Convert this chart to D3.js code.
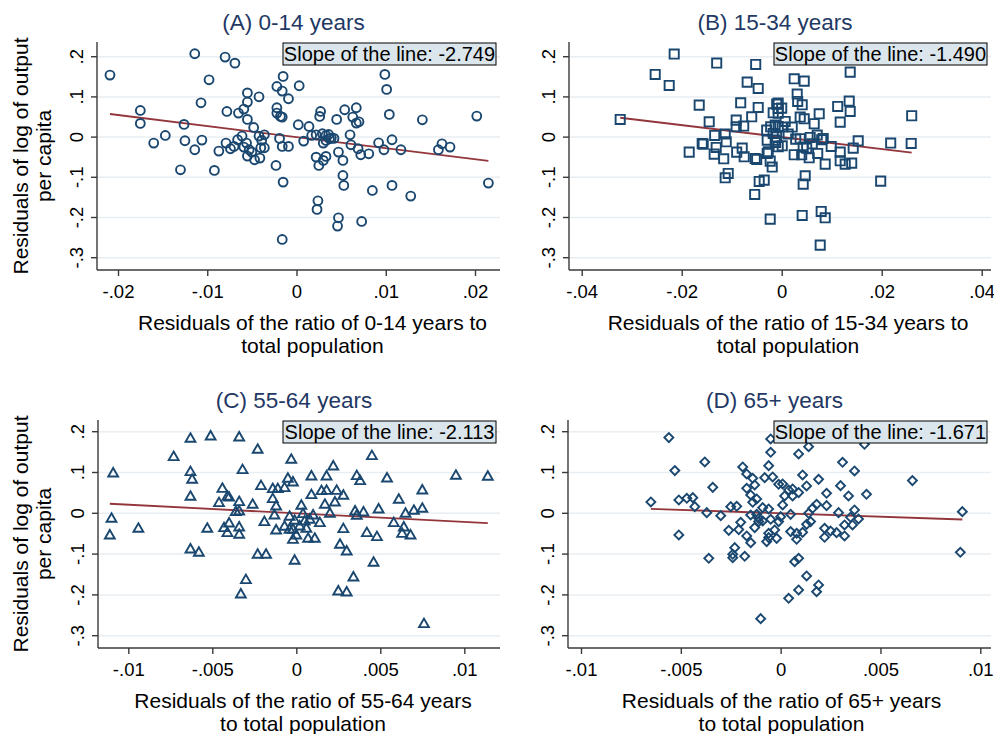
<!DOCTYPE html>
<meta charset="utf-8">
<style>
body { margin: 0; background: #fff; }
svg { display: block; font-family: "Liberation Sans", Arial, sans-serif; }
.grid line { stroke: #e8eef2; stroke-width: 1.5; }
.axis line, .axis path { stroke: #3a3a3a; stroke-width: 1.4; fill: none; }
.mark { fill: none; stroke: #1a476f; stroke-width: 1.9; }
.fit { stroke: #93363c; stroke-width: 1.8; fill: none; }
</style>
<body>
<script src="https://d3js.org/d3.v7.min.js"></script>
<script>

width = 994;
height = 734;

// panel titles and axis titles
titles = ["(A) 0-14 years", "(B) 15-34 years", "(C) 55-64 years", "(D) 65+ years"];
xTitles = [
  ["Residuals of the ratio of 0-14 years to", "total population"],
  ["Residuals of the ratio of 15-34 years to", "total population"],
  ["Residuals of the ratio of 55-64 years", "to total population"],
  ["Residuals of the ratio of 65+ years", "to total population"]
];
yTitle = ["Residuals of log of output", "per capita"];
slopes = [-2.749, -1.490, -2.113, -1.671];

// ticks
yTicks = [-0.3, -0.2, -0.1, 0, 0.1, 0.2];
yTickLabels = ["-.3", "-.2", "-.1", "0", ".1", ".2"];
xTicksA = [-0.02, -0.01, 0, 0.01, 0.02];
xTickLabelsA = ["-.02", "-.01", "0", ".01", ".02"];
xTicksB = [-0.04, -0.02, 0, 0.02, 0.04];
xTickLabelsB = ["-.04", "-.02", "0", ".02", ".04"];
xTicksCD = [-0.01, -0.005, 0, 0.005, 0.01];
xTickLabelsCD = ["-.01", "-.005", "0", ".005", ".01"];

// residual pairs [x, y]
ptsA = [
  [-0.0209,0.1542],[-0.0114,0.2073],[-0.0080,0.1990],[-0.0069,0.1840],[-0.0098,0.1426],[-0.0015,0.1510],[-0.0022,0.1260],[-0.0016,0.1144],[-0.0055,0.1100],[-0.0042,0.1003],
  [-0.0009,0.0954],[-0.0107,0.0854],[-0.0055,0.0871],[-0.0175,0.0663],[-0.0078,0.0638],[-0.0065,0.0597],[-0.0059,0.0697],[-0.0022,0.0730],[-0.0022,0.0597],[-0.0018,0.0514],
  [-0.0016,0.0498],[-0.0055,0.0440],[-0.0175,0.0340],[-0.0126,0.0315],[-0.0048,0.0240],[-0.0147,0.0041],[-0.0160,-0.0149],[-0.0125,-0.0091],[-0.0106,-0.0075],[-0.0114,-0.0315],
  [-0.0087,-0.0348],[-0.0079,-0.0149],[-0.0074,-0.0290],[-0.0070,-0.0232],[-0.0066,-0.0066],[-0.0061,0.0025],[-0.0056,-0.0149],[-0.0059,-0.0249],[-0.0053,-0.0315],[-0.0055,-0.0473],
  [-0.0050,-0.0373],[-0.0047,-0.0564],[-0.0041,-0.0522],[-0.0042,0.0025],[-0.0039,-0.0083],[-0.0036,0.0058],[-0.0036,-0.0265],[-0.0040,-0.0265],[-0.0019,-0.0033],[-0.0016,-0.0232],
  [-0.0009,-0.0232],[-0.0130,-0.0813],[-0.0092,-0.0829],[-0.0023,-0.0705],[-0.0015,-0.1120],[-0.0016,-0.2546],
  [0.0099,0.1559],[0.0101,0.1186],[0.0003,0.1277],[0.0027,0.0638],[0.0026,0.0514],[0.0054,0.0680],[0.0067,0.0730],[0.0063,0.0498],[0.0067,0.0348],[0.0070,0.0381],
  [0.0045,0.0440],[0.0104,0.0564],[0.0141,0.0431],[0.0202,0.0522],[0.0002,0.0307],[0.0014,0.0265],[0.0017,0.0041],[0.0008,-0.0100],[0.0022,0.0058],[0.0029,0.0083],
  [0.0033,0.0041],[0.0036,0.0066],[0.0037,-0.0041],[0.0039,-0.0025],[0.0042,-0.0033],[0.0030,-0.0149],[0.0033,-0.0083],[0.0060,0.0058],[0.0061,-0.0191],[0.0047,-0.0373],
  [0.0069,-0.0290],[0.0072,-0.0439],[0.0081,-0.0415],[0.0092,-0.0141],[0.0098,-0.0315],[0.0107,-0.0066],[0.0117,-0.0315],[0.0163,-0.0166],[0.0159,-0.0315],[0.0172,-0.0249],
  [0.0022,-0.0498],[0.0033,-0.0481],[0.0030,-0.0580],[0.0025,-0.0705],[0.0052,-0.0580],[0.0052,-0.0954],[0.0053,-0.1202],[0.0085,-0.1327],[0.0107,-0.1202],[0.0128,-0.1468],
  [0.0215,-0.1144],[0.0024,-0.1584],[0.0023,-0.1799],[0.0047,-0.2007],[0.0046,-0.2214],[0.0073,-0.2098]
];

ptsB = [
  [-0.0215,0.2065],[-0.0130,0.1841],[-0.0052,0.1808],[-0.0253,0.1559],[-0.0225,0.1285],[-0.0069,0.1368],[-0.0047,0.1211],[-0.0165,0.0796],[-0.0082,0.0854],[-0.0047,0.0738],
  [-0.0010,0.0821],[-0.0323,0.0439],[-0.0145,0.0381],[-0.0091,0.0423],[-0.0060,0.0506],[-0.0091,0.0257],[-0.0076,0.0274],[-0.0017,0.0605],[-0.0007,0.0713],[-0.0030,0.0174],
  [-0.0022,0.0257],[-0.0013,0.0299],[-0.0134,0.0041],[-0.0113,0.0075],[-0.0111,-0.0116],[-0.0159,-0.0158],[-0.0157,-0.0174],[-0.0185,-0.0373],[-0.0131,-0.0257],[-0.0135,-0.0423],
  [-0.0116,-0.0539],[-0.0090,-0.0373],[-0.0079,-0.0274],[-0.0075,-0.0489],[-0.0053,-0.0531],[-0.0050,-0.0556],[-0.0029,-0.0075],[-0.0027,-0.0365],[-0.0029,-0.0406],[-0.0023,-0.0597],
  [-0.0019,-0.0746],[-0.0013,-0.0075],[-0.0007,-0.0240],[-0.0107,-0.0904],[-0.0113,-0.1012],[-0.0045,-0.1103],[-0.0035,-0.1070],[-0.0054,-0.1426],[-0.0023,-0.2040],[-0.0017,0.0091],
  [-0.0010,0.0008],
  [0.0137,0.1617],[0.0025,0.1451],[0.0045,0.1393],[0.0031,0.1070],[0.0032,0.0887],[0.0041,0.0804],[-0.0007,0.0846],[0.0000,0.0721],[0.0112,0.0763],[0.0135,0.0896],
  [0.0137,0.0638],[0.0075,0.0580],[0.0117,0.0373],[0.0037,0.0498],[0.0045,0.0456],[0.0065,0.0332],[0.0260,0.0531],[-0.0007,0.0597],[0.0001,0.0249],[0.0021,0.0249],
  [-0.0007,0.0265],[0.0028,-0.0050],[0.0037,-0.0041],[0.0057,-0.0008],[0.0071,0.0050],[0.0083,-0.0033],[0.0080,-0.0066],[0.0153,-0.0091],[0.0218,-0.0149],[0.0259,-0.0158],
  [0.0001,-0.0216],[-0.0012,-0.0133],[0.0043,-0.0249],[0.0050,-0.0274],[0.0061,-0.0166],[0.0099,-0.0232],[0.0025,-0.0439],[0.0040,-0.0439],[0.0055,-0.0514],[0.0072,-0.0406],
  [0.0117,-0.0373],[0.0143,-0.0274],[0.0087,-0.0672],[0.0117,-0.0589],[0.0127,-0.0672],[0.0140,-0.0647],[0.0047,-0.0962],[0.0043,-0.1169],[0.0198,-0.1095],[0.0041,-0.1949],
  [0.0079,-0.1849],[0.0087,-0.2007],[0.0077,-0.2687],[0.0013,0.0075],[0.0007,0.0390]
];

ptsC = [
  [-0.0063,0.1822],[-0.0051,0.1879],[-0.0034,0.1855],[-0.0073,0.1373],[-0.0023,0.1552],[-0.0109,0.0972],[-0.0063,0.1005],[-0.0062,0.0817],[-0.0032,0.1054],[-0.0003,0.1307],
  [-0.0005,0.0842],[-0.0002,0.0752],[-0.0044,0.0596],[-0.0021,0.0662],[-0.0014,0.0588],[-0.0011,0.0588],[-0.0007,0.0613],[-0.0063,0.0400],[-0.0041,0.0400],[-0.0040,0.0380],
  [-0.0046,0.0245],[-0.0034,0.0270],[-0.0026,0.0204],[-0.0014,0.0343],[-0.0012,0.0163],[-0.0036,0.0025],[-0.0034,0.0041],[-0.0110,-0.0139],[-0.0111,-0.0547],[-0.0094,-0.0384],
  [-0.0053,-0.0384],[-0.0043,-0.0368],[-0.0040,-0.0253],[-0.0041,-0.0490],[-0.0034,-0.0351],[-0.0034,-0.0531],[-0.0019,-0.0221],[-0.0013,-0.0057],[-0.0012,-0.0425],[-0.0007,-0.0335],
  [-0.0004,-0.0408],[-0.0004,-0.0090],[-0.0002,-0.0654],[-0.0063,-0.0891],[-0.0058,-0.0972],[-0.0023,-0.1021],[-0.0018,-0.1021],[-0.0001,-0.1168],[-0.0030,-0.1642],[-0.0033,-0.1993],
  [0.0045,0.1397],[0.0022,0.1144],[0.0009,0.0899],[0.0018,0.0899],[0.0036,0.0907],[0.0038,0.0784],[0.0054,0.0850],[0.0095,0.0915],[0.0114,0.0891],[0.0009,0.0441],
  [0.0015,0.0539],[0.0018,0.0547],[0.0024,0.0547],[0.0028,0.0425],[0.0023,0.0261],[0.0017,0.0204],[0.0003,0.0180],[0.0061,0.0327],[0.0075,0.0556],[0.0049,0.0090],
  [0.0035,0.0041],[0.0040,0.0016],[0.0036,-0.0065],[0.0020,-0.0016],[0.0065,-0.0016],[0.0070,0.0057],[0.0075,0.0106],[0.0004,-0.0025],[0.0010,-0.0057],[0.0008,-0.0163],
  [0.0014,-0.0245],[0.0005,-0.0204],[0.0002,-0.0327],[-0.0001,-0.0188],[-0.0002,-0.0408],[0.0006,-0.0384],[0.0000,-0.0547],[0.0007,-0.0629],[0.0011,-0.0629],[0.0028,-0.0392],
  [0.0042,-0.0490],[0.0048,-0.0588],[0.0058,-0.0245],[0.0064,-0.0351],[0.0063,-0.0507],[0.0068,-0.0547],[0.0026,-0.0776],[0.0030,-0.0940],[0.0046,-0.1217],[0.0034,-0.1577],
  [0.0025,-0.1920],[0.0030,-0.1944],[0.0076,-0.2721]
];

ptsD = [
  [-0.0056,0.1855],[-0.0053,0.1046],[-0.0038,0.1258],[-0.0034,0.0637],[-0.0065,0.0278],[-0.0051,0.0327],[-0.0047,0.0368],[-0.0044,0.0384],[-0.0043,0.0163],[-0.0037,0.0016],
  [-0.0030,-0.0057],[-0.0051,-0.0531],[-0.0036,-0.1103],[-0.0019,0.1136],[-0.0017,0.0964],[-0.0014,0.0858],[-0.0013,0.0694],[-0.0017,0.0613],[-0.0015,0.0449],[-0.0012,0.0351],
  [-0.0014,0.0270],[-0.0005,0.1495],[-0.0005,0.1822],[-0.0006,0.1168],[-0.0008,0.0874],[-0.0004,0.0891],[-0.0025,0.0163],[-0.0022,0.0172],[-0.0009,0.0139],[-0.0006,0.0106],
  [-0.0015,-0.0041],[-0.0012,-0.0025],[-0.0011,-0.0123],[-0.0009,-0.0188],[-0.0011,-0.0204],[-0.0005,-0.0147],[-0.0020,-0.0221],[-0.0026,-0.0417],[-0.0021,-0.0400],[-0.0013,-0.0351],
  [-0.0017,-0.0556],[-0.0015,-0.0719],[-0.0007,-0.0694],[-0.0006,-0.0596],[-0.0006,-0.0490],[-0.0003,-0.0408],[-0.0002,-0.0613],[-0.0023,-0.0842],[-0.0024,-0.1005],[-0.0024,-0.1087],
  [-0.0018,-0.1054],[-0.0010,-0.2582],[-0.0001,0.0711],
  [0.0014,0.1634],[0.0009,0.1454],[0.0042,0.1691],[0.0031,0.1250],[0.0037,0.1038],[0.0011,0.0940],[0.0019,0.0833],[0.0013,0.0670],[0.0001,0.0719],[0.0004,0.0572],
  [0.0006,0.0596],[0.0009,0.0507],[0.0006,0.0425],[0.0002,0.0425],[0.0030,0.0678],[0.0023,0.0490],[0.0034,0.0425],[0.0043,0.0466],[0.0066,0.0801],[0.0001,0.0204],
  [0.0023,0.0188],[0.0018,0.0221],[0.0016,0.0123],[0.0014,0.0000],[0.0005,-0.0025],[0.0000,-0.0082],[-0.0001,-0.0204],[0.0029,0.0016],[0.0037,0.0082],[0.0035,-0.0098],
  [0.0039,-0.0139],[0.0032,-0.0286],[0.0036,-0.0286],[0.0015,-0.0204],[0.0013,-0.0270],[0.0091,0.0041],[0.0005,-0.0449],[0.0008,-0.0490],[0.0011,-0.0466],[0.0008,-0.0637],
  [0.0022,-0.0368],[0.0025,-0.0433],[0.0022,-0.0588],[0.0028,-0.0474],[0.0032,-0.0556],[0.0009,-0.1103],[0.0007,-0.1185],[0.0090,-0.0956],[0.0013,-0.1536],[0.0019,-0.1757],
  [0.0018,-0.1920],[0.0009,-0.1879],[0.0004,-0.2083]
];

// layout of the four plot regions (pixels)
panels = [
  {pts: ptsA, xt: xTicksA, xl: xTickLabelsA, left: 97, right: 500, top: 42, bottom: 270,
   xr: [118, 475], yr: [257.7, 56.7], shape: "circle", yTitle: true, titleShift: 14},
  {pts: ptsB, xt: xTicksB, xl: xTickLabelsB, left: 569, right: 991, top: 42, bottom: 270,
   xr: [581.7, 981.7], yr: [257.7, 56.7], shape: "square", yTitle: false, titleShift: 8},
  {pts: ptsC, xt: xTicksCD, xl: xTickLabelsCD, left: 98, right: 500, top: 420, bottom: 648,
   xr: [128.3, 464.3], yr: [635.7, 431.7], shape: "triangle", yTitle: true, titleShift: 4},
  {pts: ptsD, xt: xTicksCD, xl: xTickLabelsCD, left: 568, right: 991, top: 420, bottom: 648,
   xr: [581, 980.3], yr: [635.7, 431.7], shape: "diamond", yTitle: false, titleShift: 2}
];

symbols = {
  circle: d3.symbol(d3.symbolCircle, 62),
  square: d3.symbol(d3.symbolSquare, 84),
  triangle: d3.symbol(d3.symbolTriangle, 42),
  diamond: d3.symbol(d3.symbolSquare, 40)
};

var svg = d3.select("body").append("svg")
    .attr("width", width)
    .attr("height", height);

svg.append("rect").attr("width", width).attr("height", height).attr("fill", "#fff");

panels.forEach(function(p, i) {
  var x = d3.scaleLinear([p.xt[0], p.xt[p.xt.length - 1]], p.xr);
  var y = d3.scaleLinear([-0.3, 0.2], p.yr);
  var g = svg.append("g");

  // gridlines
  g.append("g").attr("class", "grid")
    .selectAll("line").data(yTicks).join("line")
      .attr("x1", p.left).attr("x2", p.right)
      .attr("y1", d => y(d)).attr("y2", d => y(d));

  // axes
  var xAxis = g.append("g").attr("class", "axis")
      .attr("transform", "translate(0," + p.bottom + ")")
      .call(d3.axisBottom(x).tickValues(p.xt).tickSize(6).tickFormat((d, k) => p.xl[k]));
  xAxis.select(".domain").attr("d", "M" + p.left + ",0H" + p.right);
  xAxis.selectAll("text")
      .attr("y", 15).attr("dy", "0.71em")
      .style("font-size", "18.5px").style("font-family", "Liberation Sans, Arial, sans-serif")
      .attr("fill", "#000");

  var yAxis = g.append("g").attr("class", "axis")
      .attr("transform", "translate(" + p.left + ",0)")
      .call(d3.axisLeft(y).tickValues(yTicks).tickSize(6).tickFormat((d, k) => yTickLabels[k]));
  yAxis.select(".domain").attr("d", "M0," + p.top + "V" + p.bottom);
  yAxis.selectAll("text")
      .attr("x", null).attr("dy", null)
      .attr("text-anchor", "middle")
      .attr("transform", d => "translate(-14," + y(d) + ") rotate(-90)")
      .attr("y", 0)
      .style("font-size", "18.5px").style("font-family", "Liberation Sans, Arial, sans-serif")
      .attr("fill", "#000");
  yAxis.selectAll(".tick").attr("transform", null);
  yAxis.selectAll(".tick line").attr("y1", d => y(d)).attr("y2", d => y(d));

  // fit line through the range of x
  var ext = d3.extent(p.pts, d => d[0]);
  g.append("line").attr("class", "fit")
    .attr("x1", x(ext[0])).attr("y1", y(slopes[i] * ext[0]))
    .attr("x2", x(ext[1])).attr("y2", y(slopes[i] * ext[1]));

  // markers
  g.append("g").selectAll("path").data(p.pts).join("path")
    .attr("class", "mark")
    .attr("d", symbols[p.shape])
    .attr("transform", d => "translate(" + x(d[0]) + "," + y(d[1]) + ")" + (p.shape == "diamond" ? " rotate(45)" : ""));

  // slope box
  var bw = 213, bh = 22;
  var bx = p.right - bw - 4, by = p.top + 1;
  g.append("rect").attr("x", bx).attr("y", by).attr("width", bw).attr("height", bh)
    .attr("fill", "#dbe6ec").attr("stroke", "#000").attr("stroke-width", 1);
  g.append("text").attr("x", bx + bw / 2).attr("y", by + bh - 4)
    .attr("text-anchor", "middle").style("font-size", "20px").attr("fill", "#000")
    .text("Slope of the line: " + slopes[i].toFixed(3));

  // panel title
  g.append("text").attr("x", (p.left + p.right) / 2 - 5).attr("y", p.top - 12)
    .attr("text-anchor", "middle").style("font-size", "22.5px").attr("fill", "#1f3864")
    .text(titles[i]);

  // x axis title
  g.selectAll(".xt").data(xTitles[i]).join("text")
    .attr("x", (p.left + p.right) / 2 + p.titleShift).attr("y", (d, k) => p.bottom + 60 + k * 23)
    .attr("text-anchor", "middle").style("font-size", "21px").attr("fill", "#000")
    .text(d => d);

  // y axis title on left panels
  if (p.yTitle) {
    g.selectAll(".yt").data(yTitle).join("text")
      .attr("transform", (d, k) => "translate(" + (28 + k * 23) + "," + ((p.top + p.bottom) / 2) + ") rotate(-90)")
      .attr("text-anchor", "middle").style("font-size", "21px").attr("fill", "#000")
      .text(d => d);
  }
});

</script>
